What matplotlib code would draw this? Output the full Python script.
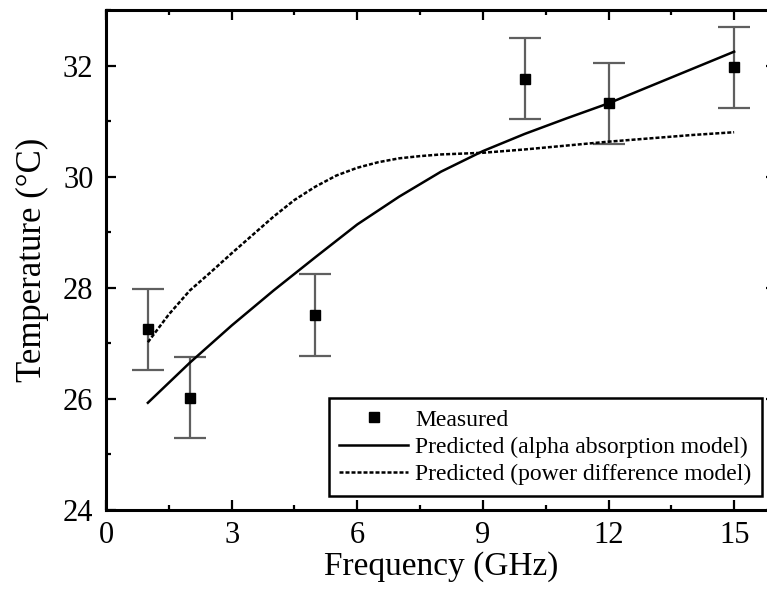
import numpy as np
import matplotlib
matplotlib.use('Agg')
import matplotlib.pyplot as plt
from matplotlib.ticker import MultipleLocator

# measured points
freq_meas = [1, 2, 5, 10, 12, 15]
temp_meas = [27.25, 26.02, 27.51, 31.76, 31.32, 31.97]
temp_err = [0.73, 0.73, 0.73, 0.73, 0.73, 0.73]

# predicted, alpha absorption model
freq_alpha = [1, 2, 3, 4, 5, 6, 7, 8, 9, 10, 11, 12, 13, 14, 15]
temp_alpha = [25.93, 26.65, 27.32, 27.95, 28.55, 29.14, 29.64, 30.09,
              30.46, 30.77, 31.05, 31.32, 31.63, 31.94, 32.25]

# predicted, power difference model
freq_power = [1, 1.5, 2, 2.5, 3, 3.5, 4, 4.5, 5, 5.5, 6, 6.5, 7, 7.5, 8,
              9, 10, 11, 12, 13, 14, 15]
temp_power = [27.02, 27.52, 27.95, 28.28, 28.62, 28.95, 29.28, 29.58, 29.82,
              30.02, 30.16, 30.26, 30.33, 30.37, 30.40,
              30.43, 30.49, 30.56, 30.63, 30.69, 30.75, 30.80]

xticks = [0, 3, 6, 9, 12, 15]
yticks = [24, 26, 28, 30, 32]

plt.rcParams['font.family'] = ['Liberation Serif', 'DejaVu Serif']

fig = plt.figure(figsize=(7.67, 5.89), dpi=100)
ax = fig.add_axes([106 / 767, 79 / 589, 670 / 767, 500 / 589])

ax.errorbar(freq_meas, temp_meas, yerr=temp_err, fmt='none',
            ecolor='#5f5f5f', elinewidth=1.6, capsize=11.5, capthick=1.6, zorder=2)
ax.plot(freq_meas, temp_meas, 's', color='black', markersize=7.5, zorder=4,
        label='Measured')
ax.plot(freq_alpha, temp_alpha, '-', color='black', lw=1.8, zorder=3,
        label='Predicted (alpha absorption model)')
ax.plot(freq_power, temp_power, color='black', lw=1.8, linestyle=(0, (1.6, 0.8)),
        zorder=3, label='Predicted (power difference model)')

ax.set_xlim(0, 16)
ax.set_ylim(24, 33)
ax.set_xticks(xticks)
ax.set_yticks(yticks)
ax.xaxis.set_minor_locator(MultipleLocator(1.5))
ax.yaxis.set_minor_locator(MultipleLocator(1))
ax.tick_params(which='both', direction='in', top=True, right=True, width=1.6,
               labelsize=22, colors='black')
ax.tick_params(axis='x', pad=8)
ax.tick_params(axis='y', pad=9)
ax.tick_params(which='major', length=7)
ax.tick_params(which='minor', length=3.5)
for sp in ax.spines.values():
    sp.set_linewidth(2.2)

ax.set_xlabel('Frequency (GHz)', fontsize=24, labelpad=1)
ax.set_ylabel('Temperature (°C)', fontsize=25, labelpad=10)

leg = ax.legend(loc='lower right', bbox_to_anchor=(0.979, 0.028), fontsize=17,
                frameon=True, fancybox=False, edgecolor='black', framealpha=1,
                borderpad=0.45, handlelength=2.9, handletextpad=0.3,
                labelspacing=0.25, borderaxespad=0)
leg.get_frame().set_linewidth(1.8)

fig.savefig('out.png', dpi=100)
